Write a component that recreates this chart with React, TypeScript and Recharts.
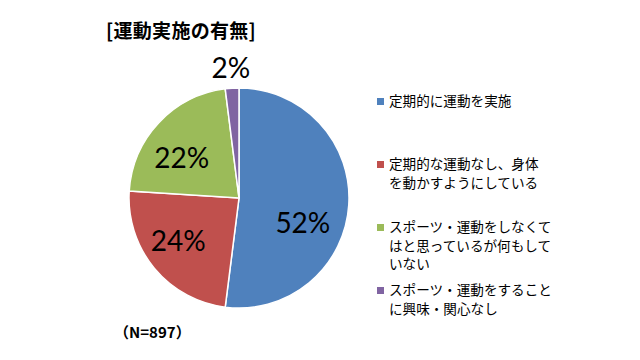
import React from 'react';
import { PieChart, Pie, Cell, Legend } from 'recharts';

const categories = [
  '定期的に運動を実施',
  '定期的な運動なし、身体\nを動かすようにしている',
  'スポーツ・運動をしなくて\nはと思っているが何もして\nいない',
  'スポーツ・運動をすること\nに興味・関心なし',
];
const values = [52, 24, 22, 2];
const colors = ['#4F81BD', '#C0504D', '#9BBB59', '#8064A2'];
const title = '[運動実施の有無]';
const sampleNote = '（N=897）';

// label placement tweaks (radius fraction, angle shift in degrees)
const labelRadius = [0.62, 0.67, 0.64, 1.19];
const labelShift = [-17, -5, 7.5, 0];

const data = categories.map((name, i) => ({ name, value: values[i] }));

const RAD = Math.PI / 180;

const renderLabel = (props: any) => {
  const { cx, cy, midAngle, outerRadius, index, value } = props;
  const r = outerRadius * labelRadius[index];
  const a = (midAngle + labelShift[index]) * RAD;
  const x = cx + r * Math.cos(-a);
  const y = cy + r * Math.sin(-a);
  return (
    <text
      x={x}
      y={y}
      textAnchor="middle"
      dominantBaseline="central"
      fill="#000"
      fontSize={28}
      fontFamily="Lato, 'Liberation Sans', sans-serif"
    >
      {`${value}%`}
    </text>
  );
};

const renderLegend = () => (
  <div style={{ fontFamily: "'Noto Sans CJK JP', sans-serif", fontSize: 13.6, color: '#000', width: 240 }}>
    {data.map((d, i) => (
      <div key={d.name} style={{ height: 63, display: 'flex', alignItems: 'flex-start' }}>
        <div
          style={{
            width: 7,
            height: 7,
            background: colors[i],
            marginTop: 7,
            marginRight: 5,
            flex: 'none',
          }}
        />
        <div style={{ whiteSpace: 'pre', lineHeight: '18.5px' }}>{d.name}</div>
      </div>
    ))}
  </div>
);

export default function App() {
  return (
    <div style={{ position: 'absolute', left: 0, top: 0, width: 640, height: 360, background: '#fff' }}>
      <div
        style={{
          position: 'absolute',
          left: 106,
          top: 17,
          fontFamily: "'Noto Sans CJK JP', sans-serif",
          fontWeight: 700,
          fontSize: 19,
          lineHeight: '26px',
          color: '#000',
          letterSpacing: 0.3,
        }}
      >
        {title}
      </div>
      <div
        style={{
          position: 'absolute',
          left: 114,
          top: 321,
          fontFamily: "'Noto Sans CJK JP', sans-serif",
          fontWeight: 700,
          fontSize: 15,
          lineHeight: '22px',
          color: '#000',
        }}
      >
        {sampleNote}
      </div>
      <PieChart
        width={640}
        height={360}
        margin={{ top: 0, right: 0, bottom: 0, left: 0 }}
        style={{ position: 'absolute', left: 0, top: 0 }}
      >
        <Pie
          data={data}
          dataKey="value"
          nameKey="name"
          cx={239}
          cy={198}
          outerRadius={110}
          startAngle={90}
          endAngle={-270}
          stroke="#fff"
          strokeWidth={1.5}
          label={renderLabel}
          labelLine={false}
          isAnimationActive={false}
        >
          {data.map((d, i) => (
            <Cell key={d.name} fill={colors[i]} />
          ))}
        </Pie>
        <Legend
          layout="vertical"
          content={renderLegend}
          wrapperStyle={{ position: 'absolute', left: 377, top: 91, width: 240 }}
        />
      </PieChart>
    </div>
  );
}
